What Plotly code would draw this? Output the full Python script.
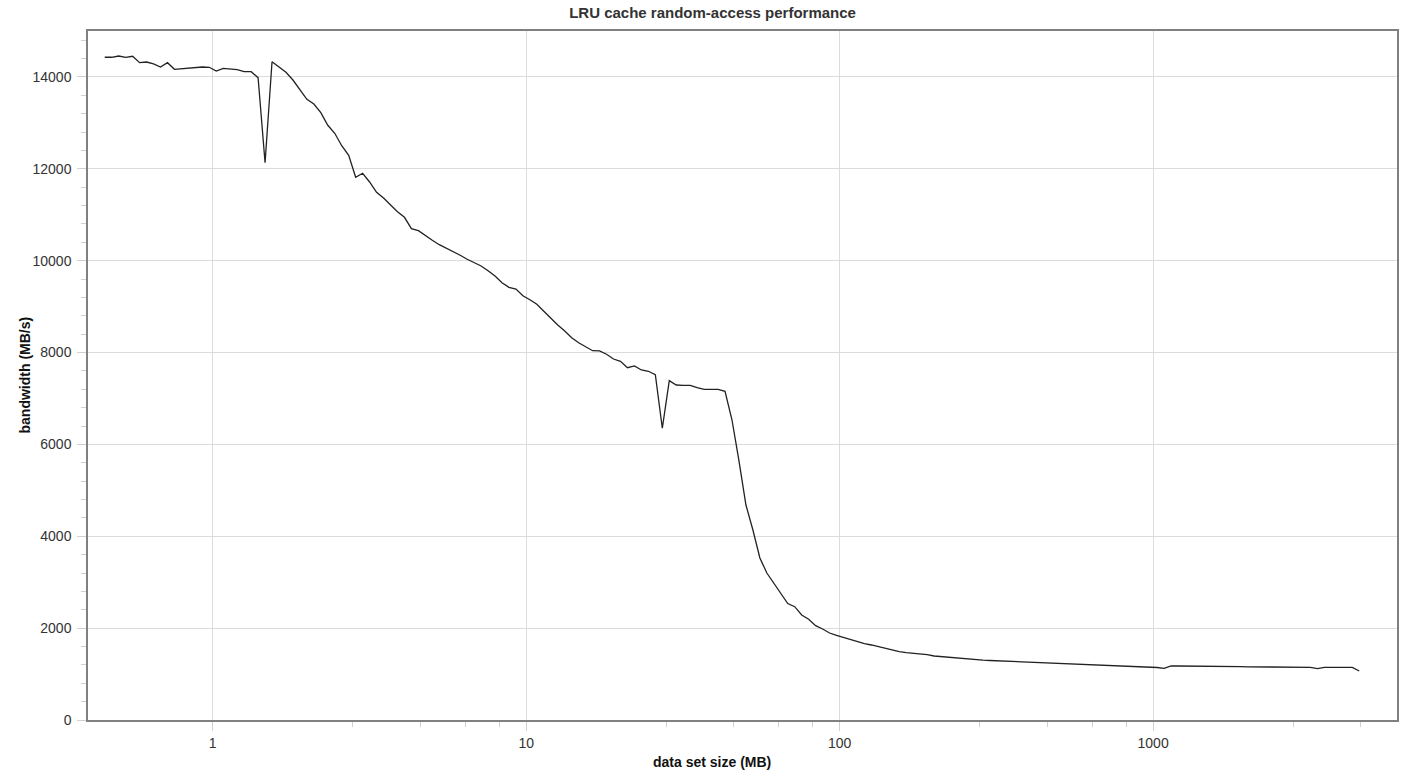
import plotly.graph_objects as go

# data set size (MB)
sizes_mb = [
    0.4523, 0.4760, 0.5012, 0.5275, 0.5552, 0.5843, 0.6150, 0.6473, 0.6813, 0.7171,
    0.7548, 0.7944, 0.8362, 0.8801, 0.9263, 0.9750, 1.0262, 1.0801, 1.1368, 1.1966,
    1.2594, 1.3255, 1.3952, 1.4685, 1.5456, 1.6268, 1.7122, 1.8022, 1.8968, 1.9965,
    2.1014, 2.2118, 2.3280, 2.4503, 2.5789, 2.7144, 2.8570, 3.0071, 3.1649, 3.3312,
    3.5062, 3.6904, 3.8843, 4.0882, 4.3030, 4.5290, 4.7669, 5.0172, 5.2808, 5.5582,
    5.8501, 6.1574, 6.4808, 6.8212, 7.1795, 7.5566, 7.9535, 8.3713, 8.8110, 9.2738,
    9.7609, 10.274, 10.813, 11.381, 11.979, 12.608, 13.271, 13.968, 14.701, 15.474,
    16.286, 17.142, 18.042, 18.990, 19.988, 21.038, 22.143, 23.306, 24.530, 25.819,
    27.175, 28.602, 30.105, 31.686, 33.350, 35.102, 36.946, 38.887, 40.929, 43.079,
    45.342, 47.724, 50.231, 52.869, 55.646, 58.569, 61.646, 64.884, 68.292, 71.879,
    75.655, 79.628, 83.811, 88.214, 92.847, 97.724, 102.86, 108.26, 113.95, 119.93,
    126.23, 132.86, 139.84, 147.19, 154.92, 163.06, 171.62, 180.64, 190.13, 200.12,
    210.63, 221.69, 233.34, 245.60, 258.50, 272.08, 286.37, 301.41, 317.24, 333.91,
    351.45, 369.91, 389.34, 409.79, 431.31, 453.97, 477.82, 502.92, 529.34, 557.14,
    586.41, 617.22, 649.64, 683.76, 719.68, 757.49, 797.28, 839.16, 883.24, 929.64,
    978.47, 1029.8, 1083.9, 1140.8, 1200.8, 1263.8, 1330.2, 1400.1, 1473.7, 1551.1,
    1632.6, 1718.3, 1808.6, 1903.6, 2003.6, 2108.9, 2219.7, 2336.3, 2459.0, 2588.2,
    2724.2, 2867.3, 3018.0, 3176.5, 3343.4, 3519.0, 3703.9, 3898.5, 4103.3, 4318.8,
    4545.7,
]

# bandwidth (MB/s)
bandwidth = [
    14428, 14428, 14456, 14428, 14450, 14310, 14325, 14282, 14216, 14310,
    14166, 14180, 14201, 14210, 14216, 14210, 14129, 14188, 14173, 14158,
    14114, 14114, 13984, 12133, 14332, 14223, 14101, 13933, 13731, 13513,
    13411, 13222, 12947, 12773, 12503, 12294, 11815, 11902, 11713, 11489,
    11364, 11219, 11066, 10944, 10696, 10653, 10544, 10444, 10348, 10276,
    10195, 10117, 10030, 9956, 9884, 9782, 9666, 9520, 9420, 9383,
    9237, 9150, 9050, 8898, 8745, 8600, 8469, 8323, 8214, 8136,
    8040, 8034, 7962, 7859, 7809, 7670, 7707, 7620, 7592, 7518,
    6351, 7387, 7293, 7287, 7287, 7235, 7200, 7200, 7200, 7156,
    6531, 5639, 4681, 4136, 3527, 3200, 2983, 2743, 2536, 2467,
    2286, 2192, 2053, 1981, 1894, 1840, 1796, 1753, 1698, 1665,
    1633, 1596, 1546, 1517, 1487, 1467, 1452, 1441, 1422, 1393,
    1378, 1361, 1350, 1337, 1324, 1311, 1302, 1295, 1289, 1284,
    1274, 1263, 1254, 1247, 1241, 1237, 1232, 1226, 1219, 1215,
    1213, 1208, 1202, 1197, 1191, 1184, 1176, 1173, 1169, 1165,
    1160, 1143, 1126, 1176, 1176, 1176, 1173, 1171, 1169, 1167,
    1165, 1163, 1160, 1160, 1158, 1156, 1154, 1152, 1150, 1147,
    1147, 1147, 1147, 1147, 1117, 1147, 1147, 1147, 1150, 1147,
    1067,
]

x_tick_vals = [1, 10, 100, 1000]
x_tick_text = ["1", "10", "100", "1000"]
x_minor_vals = [2.8, 4.6, 6.4, 8.2, 28, 46, 64, 82, 280, 460, 640, 820, 2800, 4600]
y_tick_vals = [0, 2000, 4000, 6000, 8000, 10000, 12000, 14000]
y_tick_text = ["0", "2000", "4000", "6000", "8000", "10000", "12000", "14000"]

FONT = "Liberation Sans, Arial, sans-serif"

fig = go.Figure()
fig.add_trace(go.Scatter(
    x=sizes_mb, y=bandwidth, mode="lines",
    line=dict(color="#222222", width=1.3),
    showlegend=False, hoverinfo="x+y",
))

fig.update_layout(
    width=1411, height=778,
    margin=dict(l=88, r=14, t=31, b=58),
    paper_bgcolor="white", plot_bgcolor="white",
    font=dict(family=FONT, size=14, color="#333333"),
    title=dict(text="<b>LRU cache random-access performance</b>",
               x=0.505, xref="container", xanchor="center",
               y=0.990, yref="container", yanchor="top",
               font=dict(family=FONT, size=15, color="#333333")),
    showlegend=False,
)

fig.update_xaxes(
    type="log", range=[-0.398, 3.778],
    tickmode="array", tickvals=x_tick_vals, ticktext=x_tick_text,
    ticks="outside", ticklen=9, tickcolor="#d0d0d0", tickwidth=1,
    showgrid=True, gridcolor="#dcdcdc", gridwidth=1,
    showline=True, linecolor="#808080", linewidth=1.5, mirror=True,
    zeroline=False,
    tickfont=dict(family=FONT, size=14, color="#333333"),
    minor=dict(tickmode="array", tickvals=x_minor_vals, ticks="outside",
               ticklen=5, tickcolor="#d0d0d0", tickwidth=1, showgrid=False),
)

fig.update_yaxes(
    range=[0, 15000],
    tickmode="array", tickvals=y_tick_vals, ticktext=y_tick_text,
    ticks="outside", ticklen=9, tickcolor="#d0d0d0", tickwidth=1,
    ticklabelstandoff=3,
    showgrid=True, gridcolor="#dcdcdc", gridwidth=1,
    showline=True, linecolor="#808080", linewidth=1.5, mirror=True,
    zeroline=False,
    tickfont=dict(family=FONT, size=14, color="#333333"),
    minor=dict(dtick=400, tick0=0, ticks="outside", ticklen=5,
               tickcolor="#d0d0d0", tickwidth=1, showgrid=False),
)

fig.add_annotation(
    text="<b>data set size (MB)</b>", xref="paper", yref="paper",
    x=0.4767, y=0, yshift=-42, xanchor="center", yanchor="middle",
    showarrow=False, font=dict(family=FONT, size=14, color="#111111"),
)
fig.add_annotation(
    text="<b>bandwidth (MB/s)</b>", xref="paper", yref="paper",
    x=0, xshift=-64, y=0.5, xanchor="center", yanchor="middle", textangle=-90,
    showarrow=False, font=dict(family=FONT, size=14, color="#111111"),
)

fig.write_html("out.html", config={"displayModeBar": False},
               post_script="document.body.style.margin='0';")
